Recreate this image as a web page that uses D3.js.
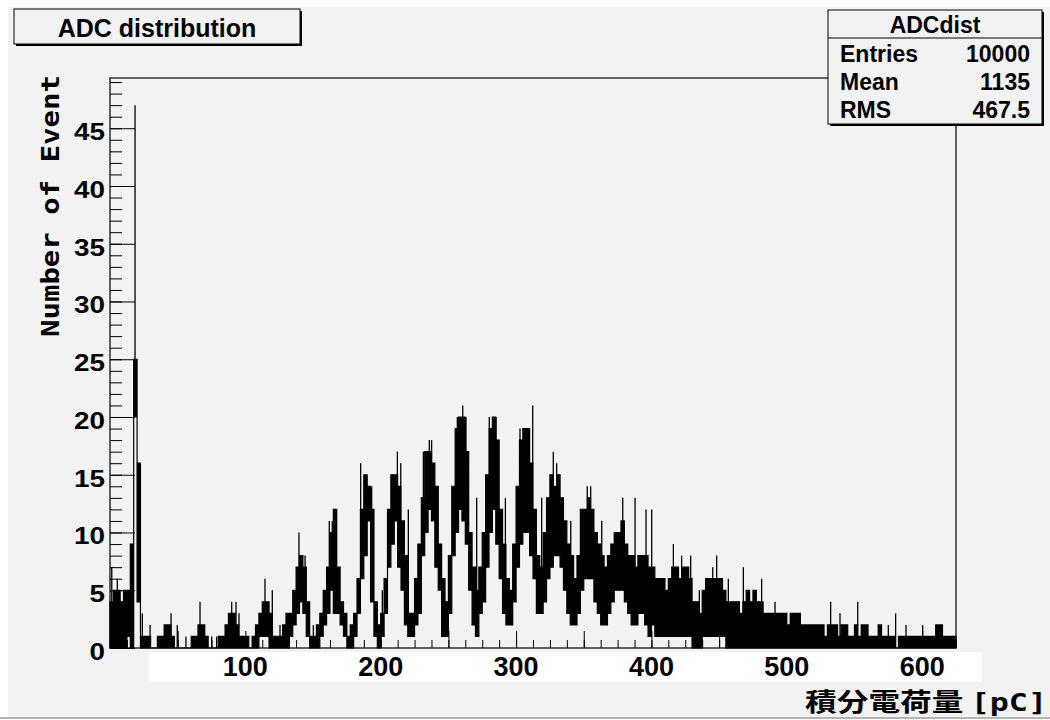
<!DOCTYPE html>
<html>
<head>
<meta charset="utf-8">
<script src="https://cdn.jsdelivr.net/npm/d3@7"></script>
<style>
  body { margin: 0; background: #fff; }
  svg { display: block; }
</style>
</head>
<body>
<div id="chart"></div>
<script>
// histogram, in groups of 2.5 pC:
// lowest and highest bin content seen inside each group
const binWidth = 2.5;
const binLow = [
  0,0,0,0,0,1,0,20,4,0,
  0,0,0,0,0,0,0,0,0,0,
  0,0,0,0,0,0,0,0,0,0,
  0,0,0,0,0,0,0,0,0,0,
  0,0,0,0,1,1,1,0,0,0,
  0,0,0,1,2,3,4,3,1,0,
  0,0,1,2,3,5,3,3,2,1,
  0,0,1,3,6,8,11,4,1,0,
  1,3,7,9,11,7,5,2,1,1,
  2,3,8,10,12,11,7,5,1,1,
  3,8,10,12,11,9,5,2,1,3,
  4,7,10,12,9,6,3,2,2,4,
  7,9,10,10,8,6,3,3,4,6,
  7,8,8,7,5,3,2,2,3,5,
  6,6,6,4,3,2,2,3,4,5,
  5,5,4,3,2,2,3,3,2,1,
  2,1,1,1,1,1,1,1,1,1,
  1,1,0,0,0,1,1,1,1,1,
  1,1,0,0,0,0,0,0,0,0,
  0,0,0,0,0,0,0,0,0,0,
  0,0,0,0,0,0,0,0,0,0,
  0,0,0,0,0,0,0,0,0,0,
  0,0,0,0,0,0,0,0,0,0,
  0,0,0,0,0,0,0,0,0,0,
  0,0,0,0,0,0,0,0,0,0
];
const binHigh = [
  4,5,5,4,5,5,9,25,16,1,
  1,1,0,0,1,1,2,2,1,0,
  0,0,0,0,1,1,2,2,1,0,
  0,0,1,1,2,3,3,2,1,1,
  1,0,1,2,3,4,4,3,1,1,
  1,2,3,3,5,7,8,7,4,1,
  1,2,3,5,7,10,12,7,4,3,
  1,2,3,6,12,15,14,12,4,2,
  3,6,12,15,15,14,11,8,3,3,
  6,9,13,17,17,16,14,9,6,4,
  8,14,19,20,20,17,10,7,5,7,
  10,15,19,20,18,12,9,6,5,9,
  14,18,19,19,16,12,8,7,10,13,
  15,14,15,13,11,9,8,6,8,12,
  12,13,12,10,9,8,7,8,9,10,
  10,11,9,8,8,7,8,8,8,7,
  7,6,6,6,5,6,7,7,6,7,
  7,6,4,4,3,5,6,6,6,6,
  6,5,4,4,4,4,3,4,5,4,
  5,4,4,3,3,3,3,3,3,3,
  2,3,3,3,2,2,2,2,2,2,
  2,1,2,2,2,1,2,2,1,1,
  2,1,2,2,1,1,1,2,1,1,
  1,1,0,1,1,1,1,1,1,1,
  1,1,1,1,2,2,1,1,1,1
];
// single bins sticking out of the band: [pC, count]
const spikes = [
  [1.3,7],[5.4,6],[18.5,47],[23.9,3],[29.6,2],[45.1,3],[47.3,1],[49.7,2],
  [56.1,1],[66.5,4],[75.1,1],[78.8,1],[89.9,4],[93.1,4],[95.3,3],[114.5,6],
  [119.9,5],[125.6,2],[139.6,10],[144.1,8],[150.2,2],[155.1,2],[162.0,11],
  [164.2,11],[167.0,12],[185.2,16],[193.3,14],[201.2,5],[208.8,15],[212.3,17],
  [214.8,16],[220.4,12],[227.8,9],[231.5,17],[235.9,18],[237.6,18],[241.4,14],
  [256.6,20],[260.6,21],[263.0,20],[270.9,13],[280.2,20],[285.2,20],[292.1,13],
  [302.9,19],[312.3,21],[318.9,13],[327.5,17],[330.0,16],[340.4,11],[352.6,14],
  [355.1,14],[363.3,11],[378.8,13],[387.9,13],[396.0,12],[400.2,12],[416.2,9],
  [422.3,8],[429.0,8],[435.4,5],[445.3,7],[448.2,8],[456.8,6],[467.9,7],
  [481.4,6],[491.3,4],[506.1,3],[532.4,4],[539.3,3],[552.4,4],[575.0,2],
  [580.4,3],[588.1,2],[600.4,2]
];
const yMajorTicks = [0,5,10,15,20,25,30,35,40,45];
const xTickLabels = [100,200,300,400,500,600];
const statRows = [["Entries","10000"],["Mean","1135"],["RMS","467.5"]];

const W = 1050, H = 720;
const frame = {left: 110, right: 956, top: 78, bottom: 648};
const bold = "'Liberation Sans', Arial, Helvetica, sans-serif";
const mono = "'DejaVu Sans Mono', 'Liberation Mono', monospace";

const svg = d3.select("#chart").append("svg")
    .attr("width", W)
    .attr("height", H);

// pad background
svg.append("rect").attr("x", 8).attr("y", 7).attr("width", W - 8).attr("height", 711)
    .attr("fill", "#f2f2f2");
svg.append("line").attr("x1", 0).attr("x2", W).attr("y1", 718).attr("y2", 718)
    .attr("stroke", "#b4b4b4").attr("stroke-width", 2);

const x = d3.scaleLinear().domain([0, 625]).range([frame.left, frame.right]);
const y = d3.scaleLinear().domain([0, 49.35]).range([frame.bottom, frame.top]);

// histogram band
const pts = binLow.map((lo, i) => ({x: i * binWidth, lo: lo, hi: binHigh[i]}));
pts.push({x: 625, lo: binLow[binLow.length - 1], hi: binHigh[binHigh.length - 1]});

const band = d3.area()
    .x(d => x(d.x))
    .y0(d => y(d.lo))
    .y1(d => y(d.hi))
    .curve(d3.curveStepAfter);

svg.append("path")
    .datum(pts)
    .attr("d", band)
    .attr("fill", "#000")
    .attr("stroke", "#000")
    .attr("stroke-width", 1.2);

svg.append("g").selectAll("line")
    .data(spikes)
    .join("line")
      .attr("x1", d => x(d[0]))
      .attr("x2", d => x(d[0]))
      .attr("y1", d => {
          const i = Math.min(binHigh.length - 1, Math.floor(d[0] / binWidth));
          return d[1] > binHigh[i] ? y(binHigh[i]) : y(binLow[i]);
      })
      .attr("y2", d => y(d[1]))
      .attr("stroke", "#000")
      .attr("stroke-width", 1.3);

// y axis, ticks point into the frame
svg.append("g")
    .attr("transform", `translate(${frame.left},0)`)
    .call(d3.axisLeft(y).tickValues(d3.range(0, 50, 1)).tickSize(-12).tickFormat(""))
    .call(g => g.select(".domain").remove())
    .call(g => g.selectAll("line").attr("stroke", "#000"));

svg.append("g")
    .attr("transform", `translate(${frame.left},0)`)
    .call(d3.axisLeft(y).tickValues(yMajorTicks).tickSize(-25).tickFormat(""))
    .call(g => g.select(".domain").remove())
    .call(g => g.selectAll("line").attr("stroke", "#000"));

svg.append("g").selectAll("text")
    .data(yMajorTicks)
    .join("text")
      .attr("x", 105)
      .attr("y", d => y(d) + 12)
      .attr("text-anchor", "end")
      .attr("textLength", d => String(d).length * 15.5)
      .attr("lengthAdjust", "spacingAndGlyphs")
      .style("font-family", bold)
      .style("font-weight", "bold")
      .style("font-size", "23px")
      .text(d => d);

// x axis ticks (major every 50, minor every 12.5)
svg.append("g")
    .attr("transform", `translate(0,${frame.bottom})`)
    .call(d3.axisBottom(x).tickValues(d3.range(0, 626, 12.5)).tickSize(-8).tickFormat(""))
    .call(g => g.select(".domain").remove())
    .call(g => g.selectAll("line").attr("stroke", "#000"));

svg.append("g")
    .attr("transform", `translate(0,${frame.bottom})`)
    .call(d3.axisBottom(x).tickValues(d3.range(0, 626, 50)).tickSize(-17).tickFormat(""))
    .call(g => g.select(".domain").remove())
    .call(g => g.selectAll("line").attr("stroke", "#000"));

// frame
svg.append("rect")
    .attr("x", frame.left).attr("y", frame.top)
    .attr("width", frame.right - frame.left).attr("height", frame.bottom - frame.top)
    .attr("fill", "none").attr("stroke", "#000").attr("stroke-width", 1.2);

// white strip behind x labels
svg.append("rect").attr("x", 149).attr("y", 652).attr("width", 833).attr("height", 30)
    .attr("fill", "#fff");

svg.append("g").selectAll("text")
    .data(xTickLabels)
    .join("text")
      .attr("x", d => x(d))
      .attr("y", 675.5)
      .attr("text-anchor", "middle")
      .style("font-family", bold)
      .style("font-weight", "bold")
      .style("font-size", "27px")
      .text(d => d);

// axis titles
svg.append("text")
    .attr("transform", "translate(58.5,206) rotate(-90)")
    .attr("text-anchor", "middle")
    .attr("textLength", 262)
    .attr("lengthAdjust", "spacingAndGlyphs")
    .style("font-family", mono)
    .style("font-weight", "bold")
    .style("font-size", "25px")
    .text("Number of Event");

const xTitle = svg.append("text")
    .attr("x", 1047)
    .attr("y", 711)
    .attr("text-anchor", "end")
    .attr("textLength", 242)
    .attr("lengthAdjust", "spacingAndGlyphs")
    .style("font-weight", "bold")
    .style("font-size", "25px");
xTitle.append("tspan").style("font-family", "'Noto Sans CJK JP', sans-serif").text("積分電荷量 ");
xTitle.append("tspan").style("font-family", mono).text("[pC]");

// title box
svg.append("rect").attr("x", 16).attr("y", 11).attr("width", 286).attr("height", 35).attr("fill", "#000");
svg.append("rect").attr("x", 14).attr("y", 9).attr("width", 286).attr("height", 35)
    .attr("fill", "#f2f2f2").attr("stroke", "#000").attr("stroke-width", 1);
svg.append("text")
    .attr("x", 157).attr("y", 37)
    .attr("text-anchor", "middle")
    .style("font-family", bold)
    .style("font-weight", "bold")
    .style("font-size", "25px")
    .text("ADC distribution");

// stats box
const sb = {x: 828, y: 10, w: 214, h: 114};
svg.append("rect").attr("x", sb.x + 2).attr("y", sb.y + 2).attr("width", sb.w).attr("height", sb.h).attr("fill", "#000");
svg.append("rect").attr("x", sb.x).attr("y", sb.y).attr("width", sb.w).attr("height", sb.h)
    .attr("fill", "#f2f2f2").attr("stroke", "#000").attr("stroke-width", 1);
svg.append("line").attr("x1", sb.x).attr("x2", sb.x + sb.w).attr("y1", 38).attr("y2", 38)
    .attr("stroke", "#000");
svg.append("text")
    .attr("x", sb.x + sb.w / 2).attr("y", 33)
    .attr("text-anchor", "middle")
    .style("font-family", bold).style("font-weight", "bold").style("font-size", "23px")
    .text("ADCdist");

const rowY = d3.scalePoint().domain(statRows.map(d => d[0])).range([62, 118]);
const rows = svg.append("g").selectAll("g").data(statRows).join("g");
rows.append("text")
    .attr("x", 840).attr("y", d => rowY(d[0]))
    .style("font-family", bold).style("font-weight", "bold").style("font-size", "23px")
    .text(d => d[0]);
rows.append("text")
    .attr("x", 1030).attr("y", d => rowY(d[0]))
    .attr("text-anchor", "end")
    .style("font-family", bold).style("font-weight", "bold").style("font-size", "23px")
    .text(d => d[1]);
</script>
</body>
</html>
